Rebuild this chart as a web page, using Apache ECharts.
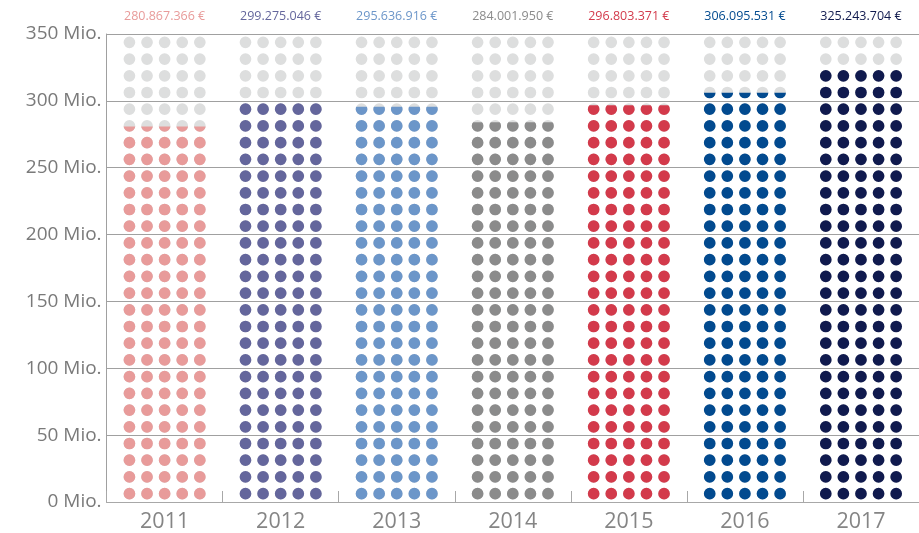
<!DOCTYPE html>
<html>
<head>
<meta charset="utf-8">
<script src="https://cdn.jsdelivr.net/npm/echarts@6/dist/echarts.min.js"></script>
<style>
  html, body { margin: 0; padding: 0; background: #ffffff; }
  #chart { width: 919px; height: 533px; }
</style>
</head>
<body>
<div id="chart"></div>
<script>
// Annual totals in euro
const years = ['2011', '2012', '2013', '2014', '2015', '2016', '2017'];
const amounts = [280867366, 299275046, 295636916, 284001950, 296803371, 306095531, 325243704];
const yearColors = ['#E89B9A', '#64669C', '#6C96C9', '#8B8B8B', '#D33A4B', '#024A8F', '#101A4E'];

// Value axis in millions
const axisMax = 350;
const axisStep = 50;
const dotRows = 28;          // each row of dots = 12.5 Mio.
const emptyDot = '#DDDEDE';

// one row of five dots as a single symbol
function dotRowPath(count, r, pitch) {
  let d = '';
  for (let i = 0; i < count; i++) {
    const cx = r + i * pitch;
    d += 'M' + (cx - r) + ',' + r +
         'a' + r + ',' + r + ' 0 1,0 ' + (2 * r) + ',0' +
         'a' + r + ',' + r + ' 0 1,0 ' + (-2 * r) + ',0Z';
  }
  return 'path://' + d;
}
const dotR = 5.85;
const dotPitch = 17.6;
const rowWidth = 4 * dotPitch + 2 * dotR;
const rowSymbol = dotRowPath(5, dotR, dotPitch);

function euro(v) {
  return String(v).replace(/\B(?=(\d{3})+(?!\d))/g, '.') + ' €';
}

const font = "'Open Sans', 'Noto Sans', sans-serif";

const chart = echarts.init(document.getElementById('chart'));
chart.setOption({
  animation: false,
  grid: { left: 106.6, right: -9.4, top: 34, bottom: 30, containLabel: false },
  xAxis: {
    type: 'category',
    data: years,
    axisLine: { show: true, lineStyle: { color: '#A8A8A8', width: 1 } },
    axisTick: { show: true, inside: true, length: 11, lineStyle: { color: '#A8A8A8' } },
    axisLabel: { color: '#858585', fontSize: 21.5, fontWeight: 500, fontFamily: font, margin: 9 },
    splitLine: { show: false }
  },
  yAxis: {
    type: 'value',
    min: 0,
    max: axisMax,
    interval: axisStep,
    axisLine: { show: true, lineStyle: { color: '#A0A0A0', width: 1 } },
    axisTick: { show: false },
    axisLabel: {
      color: '#7A7A7A', fontSize: 19, fontWeight: 500, fontFamily: font, margin: 5,
      padding: [0, 0, 5, 0],
      formatter: v => v + ' Mio.'
    },
    splitLine: { show: true, lineStyle: { color: '#A0A0A0', width: 1 } }
  },
  series: [
    {
      // empty dots filling the whole scale, with the totals above
      type: 'pictorialBar',
      silent: true,
      barWidth: rowWidth,
      symbol: rowSymbol,
      symbolSize: [rowWidth, 2 * dotR],
      symbolRepeat: dotRows,
      symbolMargin: '0!',
      symbolBoundingData: axisMax,
      itemStyle: { color: emptyDot },
      z: 1,
      label: {
        show: true,
        position: 'top',
        distance: 11,
        fontSize: 12.5,
        fontWeight: 500,
        fontFamily: font,
        formatter: p => euro(amounts[p.dataIndex])
      },
      data: years.map((y, i) => ({ value: axisMax, label: { color: yearColors[i] } }))
    },
    {
      // filled dots up to each year's total
      type: 'pictorialBar',
      silent: true,
      barWidth: rowWidth,
      symbol: rowSymbol,
      symbolSize: [rowWidth, 2 * dotR],
      symbolRepeat: dotRows,
      symbolMargin: '0!',
      symbolBoundingData: axisMax,
      symbolClip: true,
      z: 2,
      data: amounts.map((v, i) => ({ value: v / 1e6, itemStyle: { color: yearColors[i] } }))
    }
  ]
});
</script>
</body>
</html>
